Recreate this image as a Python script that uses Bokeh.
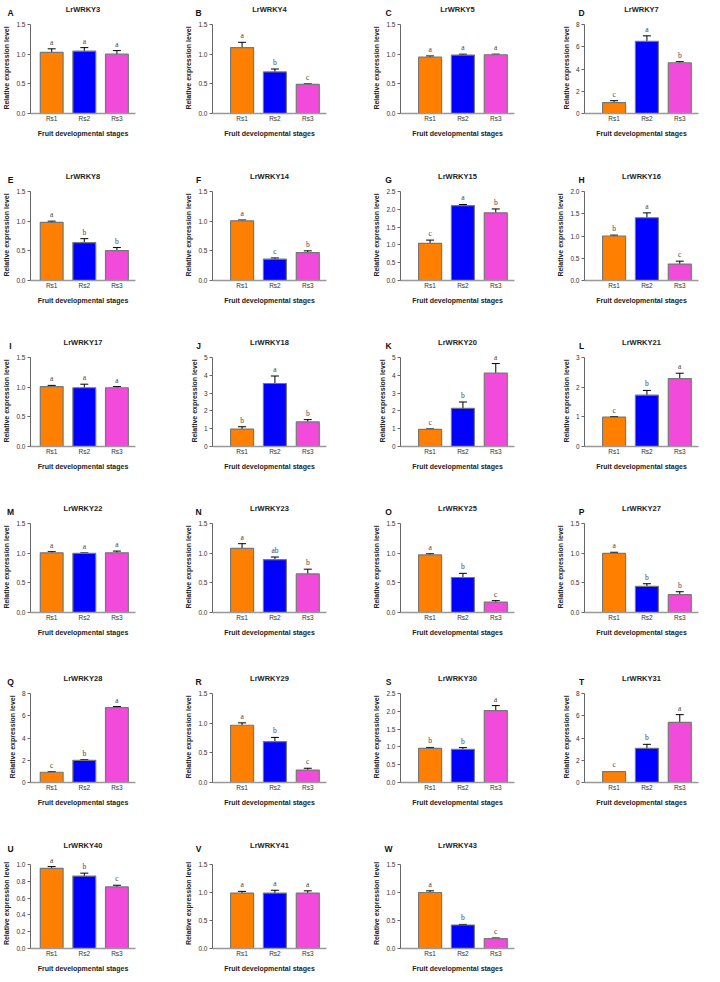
from bokeh.plotting import figure
from bokeh.layouts import gridplot
from bokeh.models import (Range1d, FixedTicker, PrintfTickFormatter, Whisker,
                          TeeHead, ColumnDataSource, Label, LabelSet)
from bokeh.embed import file_html
from bokeh.resources import INLINE

# ---------------- data ----------------
stages = ["Rs1", "Rs2", "Rs3"]
bar_colors = ["#FF7F00", "#0000FF", "#F24BDB"]
panel_letters = list("ABCDEFGHIJKLMNOPQRSTUVW")
genes = ["LrWRKY3", "LrWRKY4", "LrWRKY5", "LrWRKY7", "LrWRKY8", "LrWRKY14",
         "LrWRKY15", "LrWRKY16", "LrWRKY17", "LrWRKY18", "LrWRKY20", "LrWRKY21",
         "LrWRKY22", "LrWRKY23", "LrWRKY25", "LrWRKY27", "LrWRKY28", "LrWRKY29",
         "LrWRKY30", "LrWRKY31", "LrWRKY40", "LrWRKY41", "LrWRKY43"]
means = [
    [1.03, 1.05, 1.00], [1.11, 0.70, 0.49], [0.95, 0.985, 0.99], [0.97, 6.48, 4.56],
    [0.98, 0.64, 0.505], [1.005, 0.36, 0.47], [1.045, 2.105, 1.90], [1.00, 1.41, 0.37],
    [1.01, 0.99, 0.99], [0.98, 3.54, 1.38], [0.96, 2.15, 4.13], [0.99, 1.73, 2.29],
    [1.005, 0.995, 1.005], [1.08, 0.89, 0.65], [0.97, 0.59, 0.175], [0.995, 0.44, 0.30],
    [0.92, 1.99, 6.73], [0.965, 0.69, 0.21], [0.96, 0.93, 2.02], [0.97, 3.08, 5.40],
    [0.955, 0.862, 0.733], [0.99, 0.99, 0.99], [1.00, 0.42, 0.178],
]
errors = [
    [0.06, 0.06, 0.06], [0.09, 0.05, 0.01], [0.02, 0.015, 0.01], [0.18, 0.50, 0.10],
    [0.02, 0.065, 0.05], [0.015, 0.02, 0.03], [0.09, 0.03, 0.11], [0.02, 0.11, 0.065],
    [0.02, 0.06, 0.02], [0.13, 0.42, 0.13], [0.03, 0.35, 0.53], [0.02, 0.16, 0.18],
    [0.02, 0.01, 0.03], [0.08, 0.045, 0.08], [0.02, 0.07, 0.025], [0.02, 0.045, 0.05],
    [0.05, 0.06, 0.10], [0.04, 0.07, 0.03], [0.025, 0.05, 0.14], [0.02, 0.35, 0.70],
    [0.02, 0.035, 0.02], [0.03, 0.05, 0.04], [0.03, 0.01, 0.01],
]
sig_letters = [
    ["a", "a", "a"], ["a", "b", "c"], ["a", "a", "a"], ["c", "a", "b"],
    ["a", "b", "b"], ["a", "c", "b"], ["c", "a", "b"], ["b", "a", "c"],
    ["a", "a", "a"], ["b", "a", "b"], ["c", "b", "a"], ["c", "b", "a"],
    ["a", "a", "a"], ["a", "ab", "b"], ["a", "b", "c"], ["a", "b", "b"],
    ["c", "b", "a"], ["a", "b", "c"], ["b", "b", "a"], ["c", "b", "a"],
    ["a", "b", "c"], ["a", "a", "a"], ["a", "b", "c"],
]
y_max = [1.5, 1.5, 1.5, 8, 1.5, 1.5, 2.5, 2.0, 1.5, 5, 5, 3,
         1.5, 1.5, 1.5, 1.5, 8, 1.5, 2.5, 8, 1.0, 1.5, 1.5]
y_step = [0.5, 0.5, 0.5, 2, 0.5, 0.5, 0.5, 0.5, 0.5, 1, 1, 1,
          0.5, 0.5, 0.5, 0.5, 2, 0.5, 0.5, 2, 0.2, 0.5, 0.5]
y_title = "Relative expression level"
x_title = "Fruit developmental stages"

# ---------------- layout ----------------
FONT = "Liberation Sans"
col_widths = [182, 188, 184, 150]
col_x0 = [-0.65, -0.9, -0.9, -0.9]
col_fw = [111, 120, 120, 120]
letter_dx = [-20, -14, -12, -3]
row_heights = [167, 166, 166, 170, 169, 141]
row_top = [22, 22, 22, 22, 22, 20]
row_axis_h = [89, 89, 89, 89, 89, 84]
row_frame_h = [91, 91, 91, 91, 91, 90]
LEFT = 24
X1 = 2.57


def make_panel(i, r, c):
    w, h = col_widths[c], row_heights[r]
    top, axis_h, frame_h = row_top[r], row_axis_h[r], row_frame_h[r]
    x0, fw = col_x0[c], col_fw[c]
    ymax = y_max[i]
    step = y_step[i]
    p = figure(width=w, height=h, output_backend="svg", toolbar_location=None,
               x_range=Range1d(x0, X1), y_range=Range1d(0, ymax * frame_h / axis_h),
               min_border_left=LEFT, min_border_top=top,
               min_border_right=w - LEFT - fw, min_border_bottom=h - top - frame_h)
    p.outline_line_color = None
    p.xgrid.visible = False
    p.ygrid.visible = False

    xs = list(range(len(stages)))
    m = means[i]
    e = errors[i]
    src = ColumnDataSource(dict(
        x=xs, top=m, color=bar_colors,
        upper=[a + b for a, b in zip(m, e)],
        lower=[a - b for a, b in zip(m, e)],
        lab=sig_letters[i],
    ))
    p.vbar(x="x", top="top", bottom=0, width=0.7, source=src,
           fill_color="color", line_color="#777777", line_width=1.2)
    p.add_layout(Whisker(source=src, base="x", upper="upper", lower="lower",
                         line_color="black", line_width=1,
                         upper_head=TeeHead(size=8, line_color="black", line_width=1),
                         lower_head=TeeHead(size=8, line_color="black", line_width=1)))
    p.add_layout(LabelSet(x="x", y="upper", text="lab", source=src, y_offset=2,
                          text_align="center", text_baseline="bottom",
                          text_font=FONT, text_font_size="7.5px",
                          text_color="#444444"))

    # title + panel letter
    p.title.text = genes[i]
    p.title.align = "center"
    p.title.offset = (1 - (x0 + X1) / 2) * fw / (X1 - x0)
    p.title.text_font = FONT
    p.title.text_font_size = "7.5px"
    p.title.text_font_style = "bold"
    p.title.text_color = "#222222"
    p.title.standoff = -2
    p.add_layout(Label(x=letter_dx[c], y=10, x_units="screen", y_units="screen",
                       text=panel_letters[i], text_font=FONT, text_font_size="8.5px",
                       text_font_style="bold", text_align="center",
                       text_baseline="middle", text_color="#111111"), "above")

    # axes
    n = int(round(ymax / step))
    ticks = [round(k * step, 3) for k in range(n + 1)]
    p.yaxis.ticker = FixedTicker(ticks=ticks)
    p.yaxis.bounds = (0, ymax)
    p.yaxis.formatter = PrintfTickFormatter(format="%.1f" if step < 1 else "%d")
    p.xaxis.ticker = FixedTicker(ticks=xs)
    p.xaxis.major_label_overrides = {k: s for k, s in zip(xs, stages)}
    for ax in (p.xaxis, p.yaxis):
        ax.major_label_text_font = FONT
        ax.major_label_text_font_size = "6.5px"
        ax.major_label_text_color = "#333333"
        ax.axis_label_text_font = FONT
        ax.axis_label_text_font_size = "7px"
        ax.axis_label_text_font_style = "bold"
        ax.axis_label_text_color = "#222222"
        ax.minor_tick_line_color = None
        ax.minor_tick_out = 0
    p.yaxis.axis_label = y_title
    p.xaxis.axis_label = x_title
    p.yaxis.axis_line_color = "#666666"
    p.yaxis.major_tick_line_color = "#666666"
    p.yaxis.major_tick_out = 3
    p.yaxis.major_tick_in = 0
    p.yaxis.major_label_standoff = 2
    p.yaxis.axis_label_standoff = 3
    p.xaxis.axis_line_color = "#999999"
    p.xaxis.axis_line_width = 1.5
    p.xaxis.major_tick_line_color = None
    p.xaxis.major_tick_out = 0
    p.xaxis.major_tick_in = 0
    p.xaxis.major_label_standoff = 1
    p.xaxis.axis_label_standoff = 5
    return p


rows = []
idx = 0
for r in range(len(row_heights)):
    row = []
    for c in range(len(col_widths)):
        if idx < len(genes):
            row.append(make_panel(idx, r, c))
            idx += 1
        else:
            row.append(None)
    rows.append(row)

grid = gridplot(rows, toolbar_location=None)
open("out.html", "w").write(file_html(grid, INLINE))
